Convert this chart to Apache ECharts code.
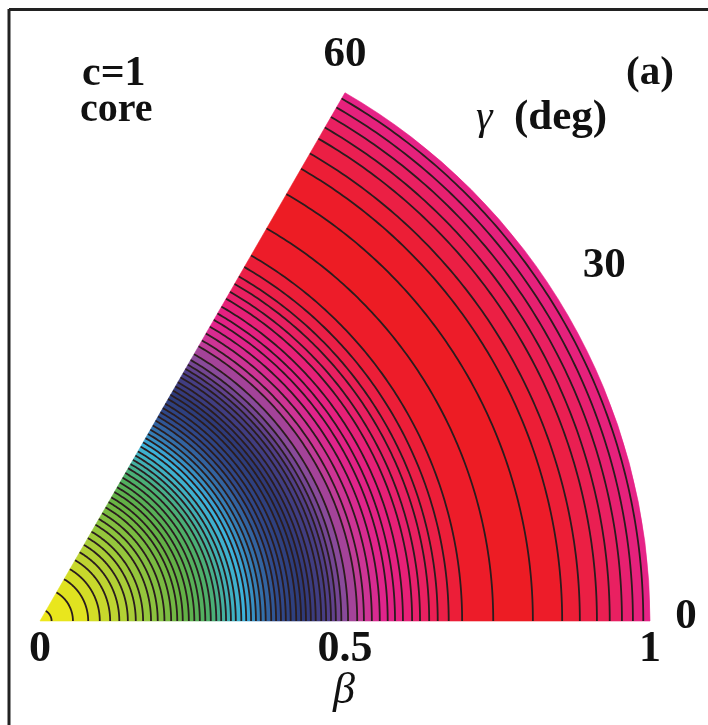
<!DOCTYPE html>
<html>
<head>
<meta charset="utf-8">
<script src="https://cdn.jsdelivr.net/npm/echarts@6/dist/echarts.min.js"></script>
<style>
  html, body { margin: 0; padding: 0; background: #fff; }
  #chart { width: 708px; height: 725px; }
</style>
</head>
<body>
<div id="chart"></div>
<script>
// Radii (beta) of the equipotential contour lines along gamma = 0
const contourBeta = [
  0.019, 0.054, 0.079, 0.098, 0.115, 0.130, 0.144, 0.157, 0.169, 0.182,
  0.193, 0.204, 0.215, 0.225, 0.234, 0.244, 0.253, 0.262, 0.271, 0.280,
  0.289, 0.297, 0.305, 0.313, 0.321, 0.330, 0.338, 0.346, 0.354, 0.362,
  0.370, 0.379, 0.387, 0.395, 0.403, 0.411, 0.420, 0.428, 0.436, 0.444,
  0.452, 0.461, 0.469, 0.477, 0.485, 0.494, 0.505, 0.520, 0.531, 0.544,
  0.557, 0.570, 0.582, 0.595, 0.610, 0.623, 0.638, 0.652, 0.670, 0.692,
  0.743, 0.808, 0.856, 0.885, 0.913, 0.934, 0.954, 0.972, 0.989
];
// Colour of the filled bands as a function of beta
const bandColorStops = [
  [0.00, '#f0e81c'], [0.06, '#e4e41e'], [0.12, '#c0d530'], [0.18, '#92c53d'],
  [0.24, '#62b146'], [0.28, '#4caf6c'], [0.31, '#40b0b6'], [0.335, '#3cb2dc'],
  [0.36, '#3479b2'], [0.39, '#2f4b8c'], [0.43, '#2d3a78'], [0.47, '#4a3e86'],
  [0.50, '#8a4a9a'], [0.53, '#c83a98'], [0.56, '#e0248c'], [0.59, '#e62080'],
  [0.62, '#e8206a'], [0.65, '#ea1f50'], [0.68, '#ec1e38'], [0.72, '#ed1c28'],
  [0.775, '#ed1c24'], [0.83, '#ed1c28'], [0.86, '#ec1e32'], [0.885, '#ec1e3c'],
  [0.913, '#ea1f4c'], [0.934, '#e92058'], [0.954, '#e8206a'], [0.972, '#e62076'],
  [0.989, '#e52382'], [1.00, '#e6248c']
];
const betaRange = [0, 1];
const gammaRange = [0, 60];
const betaTicks = [0, 0.5, 1];
const gammaTicks = [0, 30, 60];
const gammaLabelOffsets = [[36, -4], [36, -50], [0, -38]];

function hexToRgb(h) {
  const n = parseInt(h.slice(1), 16);
  return [(n >> 16) & 255, (n >> 8) & 255, n & 255];
}
function colorAt(b) {
  const s = bandColorStops;
  if (b <= s[0][0]) return s[0][1];
  for (let i = 1; i < s.length; i++) {
    if (b <= s[i][0]) {
      const t = (b - s[i - 1][0]) / (s[i][0] - s[i - 1][0]);
      const a = hexToRgb(s[i - 1][1]), c = hexToRgb(s[i][1]);
      const m = a.map((v, k) => Math.round(v + (c[k] - v) * t));
      return 'rgb(' + m.join(',') + ')';
    }
  }
  return s[s.length - 1][1];
}

// band edges: 0, every contour, 1
const edges = [betaRange[0]].concat(contourBeta, [betaRange[1]]);
const bands = [];
for (let i = 0; i < edges.length - 1; i++) bands.push([edges[i], edges[i + 1]]);

function geom(api, r) {
  const c = api.coord([0, gammaRange[0]]);
  const p0 = api.coord([r, gammaRange[0]]);
  const p1 = api.coord([r, gammaRange[1]]);
  return {
    cx: c[0], cy: c[1],
    r: Math.hypot(p0[0] - c[0], p0[1] - c[1]),
    a0: Math.atan2(p0[1] - c[1], p0[0] - c[0]),
    a1: Math.atan2(p1[1] - c[1], p1[0] - c[0])
  };
}

const chart = echarts.init(document.getElementById('chart'), null, { renderer: 'canvas' });
const serif = '"Liberation Serif", "Times New Roman", serif';

chart.setOption({
  animation: false,
  backgroundColor: '#fff',
  polar: { center: [40, 621], radius: 610 },
  angleAxis: {
    type: 'value', min: 0, max: 360, startAngle: 0, clockwise: false,
    show: false
  },
  radiusAxis: { type: 'value', min: betaRange[0], max: betaRange[1], show: false },
  series: [
    {
      type: 'custom', coordinateSystem: 'polar', silent: true,
      data: bands,
      renderItem: function (params, api) {
        const r0 = api.value(0), r1 = api.value(1);
        const gi = geom(api, r0), go = geom(api, r1);
        const col = colorAt((r0 + r1) / 2);
        return {
          type: 'sector',
          shape: { cx: go.cx, cy: go.cy, r0: gi.r, r: go.r, startAngle: go.a1, endAngle: go.a0, clockwise: true },
          style: { fill: col, stroke: col, lineWidth: 0.6 }
        };
      }
    },
    {
      // contour lines, traced through the polar axes from gamma = 0 to 60
      type: 'custom', coordinateSystem: 'polar', silent: true,
      data: contourBeta.map(b => [b, 0]),
      renderItem: function (params, api) {
        const b = api.value(0);
        const pts = [];
        for (let g = gammaRange[0]; g <= gammaRange[1]; g += 0.5) pts.push(api.coord([b, g]));
        return {
          type: 'polyline',
          shape: { points: pts },
          style: { stroke: '#2a1c1e', lineWidth: 1.8, fill: null, lineCap: 'butt', lineJoin: 'round' }
        };
      }
    },
    {
      // beta tick labels along the gamma = 0 edge
      type: 'custom', coordinateSystem: 'polar', silent: true,
      data: betaTicks.map(b => [b, 0]),
      renderItem: function (params, api) {
        const p = api.coord([api.value(0), 0]);
        return {
          type: 'text',
          style: {
            x: p[0], y: p[1] + 29, text: String(api.value(0)),
            font: 'bold 44px ' + serif, fill: '#111', textAlign: 'center', textVerticalAlign: 'middle'
          }
        };
      }
    },
    {
      // gamma tick labels beyond the outer arc
      type: 'custom', coordinateSystem: 'polar', silent: true,
      data: gammaTicks.map(g => [betaRange[1], g]),
      renderItem: function (params, api) {
        const p = api.coord([api.value(0), api.value(1)]);
        const off = gammaLabelOffsets[params.dataIndex];
        return {
          type: 'text',
          style: {
            x: p[0] + off[0], y: p[1] + off[1], text: String(gammaTicks[params.dataIndex]),
            font: 'bold 43px ' + serif, fill: '#111', textAlign: 'center', textVerticalAlign: 'middle'
          }
        };
      }
    }
  ],
  graphic: [
    { type: 'line', shape: { x1: 9, y1: 9.5, x2: 708, y2: 9.5 }, style: { stroke: '#222', lineWidth: 3 } },
    { type: 'line', shape: { x1: 9, y1: 9, x2: 9, y2: 725 }, style: { stroke: '#222', lineWidth: 3 } },
    { type: 'text', left: 82, top: 53, style: { text: 'c=1', font: 'bold 42px ' + serif, fill: '#111' } },
    { type: 'text', left: 80, top: 91, style: { text: 'core', font: 'bold 40px ' + serif, fill: '#111' } },
    { type: 'text', left: 626, top: 53, style: { text: '(a)', font: 'bold 41px ' + serif, fill: '#111' } },
    { type: 'text', left: 476, top: 97, style: { text: '\u03b3', font: 'italic 42px ' + serif, fill: '#111' } },
    { type: 'text', left: 514, top: 96, style: { text: '(deg)', font: 'bold 43px ' + serif, fill: '#111' } },
    { type: 'text', left: 333, top: 669, style: { text: '\u03b2', font: 'italic 44px ' + serif, fill: '#111' } }
  ]
});
</script>
</body>
</html>
